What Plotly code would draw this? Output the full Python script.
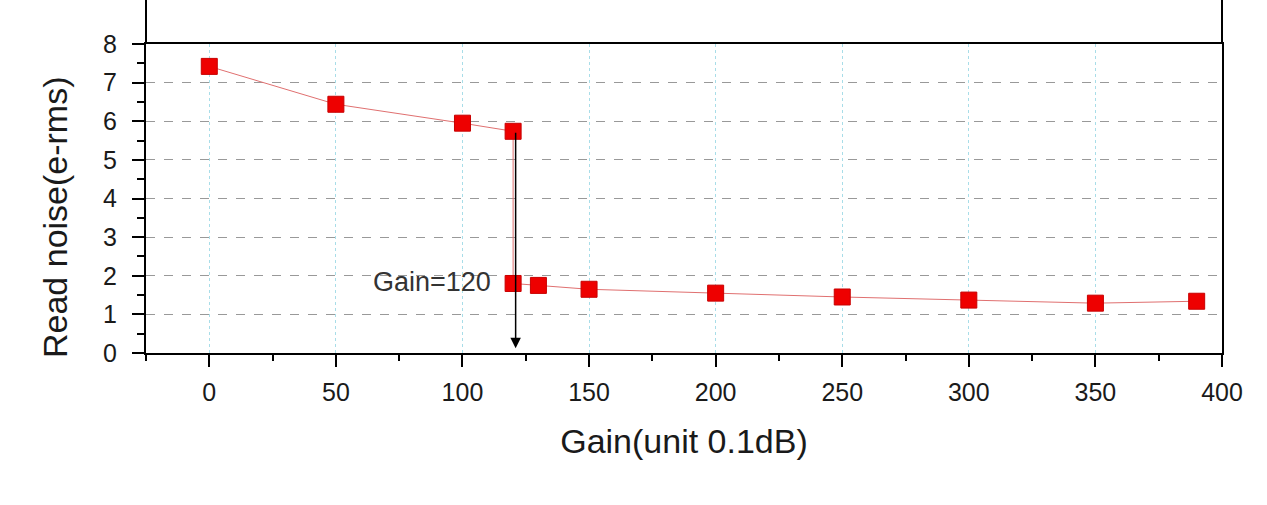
import plotly.graph_objects as go

gain = [0, 50, 100, 120, 120, 130, 150, 200, 250, 300, 350, 390]
read_noise = [7.42, 6.44, 5.95, 5.74, 1.80, 1.75, 1.65, 1.55, 1.45, 1.37, 1.29, 1.34]
x_ticks = [0, 50, 100, 150, 200, 250, 300, 350, 400]
y_ticks = [0, 1, 2, 3, 4, 5, 6, 7, 8]
arrow_x = 121
arrow_from = 5.74
arrow_to = 0.12

font = "Liberation Sans, Arial, sans-serif"
txt = "#1a1a1a"

fig = go.Figure()
fig.add_trace(go.Scatter(
    x=gain, y=read_noise, mode="lines+markers",
    line=dict(color="#e07070", width=1),
    marker=dict(symbol="square", size=16, color="#ee0000",
                line=dict(color="#c80000", width=1)),
    showlegend=False, cliponaxis=False,
))

fig.add_annotation(x=arrow_x, y=arrow_to, ax=arrow_x, ay=arrow_from,
                   xref="x", yref="y", axref="x", ayref="y",
                   text="", showarrow=True, arrowhead=2, arrowsize=1.4,
                   arrowwidth=1.5, arrowcolor="black")
fig.add_annotation(x=112, y=1.84, xref="x", yref="y", text="Gain=120",
                   showarrow=False, xanchor="right", yanchor="middle",
                   font=dict(family=font, size=27, color="#333333"))
fig.add_annotation(x=-0.0846, y=0.44, xref="paper", yref="paper",
                   text="Read noise(e-rms)", textangle=-90, showarrow=False,
                   xanchor="center", yanchor="middle",
                   font=dict(family=font, size=34, color=txt))

# frame extension above the plot
for xp in (0, 1):
    fig.add_shape(type="line", xref="paper", yref="paper", x0=xp, x1=xp,
                  y0=1, y1=1.2, line=dict(color="black", width=2))

fig.update_xaxes(
    range=[-25, 400], tickvals=x_ticks, ticks="outside", ticklen=12, tickwidth=2,
    tickcolor="black", showline=True, linecolor="black", linewidth=2, mirror=True,
    showgrid=True, gridcolor="#a8dde8", griddash="dot", gridwidth=1,
    zeroline=False, ticklabelstandoff=4,
    minor=dict(dtick=25, tick0=0, ticks="outside", ticklen=6, tickwidth=2,
               tickcolor="black", showgrid=False),
    tickfont=dict(family=font, size=25, color=txt),
    title=dict(text="Gain(unit 0.1dB)", font=dict(family=font, size=34, color=txt),
               standoff=24),
)
fig.update_yaxes(
    range=[0, 8], tickvals=y_ticks, ticks="outside", ticklen=12, tickwidth=2,
    tickcolor="black", showline=True, linecolor="black", linewidth=2, mirror=True,
    showgrid=True, gridcolor="#999999", griddash="dash", gridwidth=1,
    zeroline=False, ticklabelstandoff=10,
    minor=dict(dtick=0.5, tick0=0, ticks="outside", ticklen=7, tickwidth=2,
               tickcolor="black", showgrid=False),
    tickfont=dict(family=font, size=25, color=txt),
)

fig.update_layout(
    width=1267, height=505,
    margin=dict(l=146, r=45, t=44, b=152),
    plot_bgcolor="white", paper_bgcolor="white",
)

fig.write_html("out.html")
